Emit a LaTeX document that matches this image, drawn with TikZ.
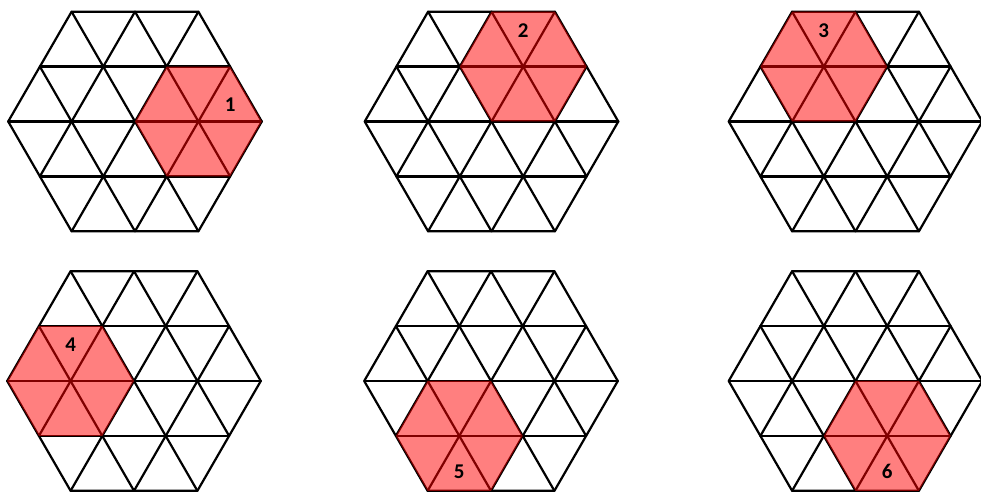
\documentclass[tikz,border=0pt]{standalone}
\usepackage{fontspec}
\setmainfont{Carlito}
\usetikzlibrary{calc}
\begin{document}
\begin{tikzpicture}[x=1pt,y=1pt,
  gridline/.style={line width=2.2pt, line join=round, line cap=round, black},
  redcell/.style={fill=red, fill opacity=0.5},
  lbl/.style={font=\fontsize{21}{24}\selectfont\bfseries, text=black, inner sep=0pt}]
\useasboundingbox[fill=white] (0,0) rectangle (981,492);
\def\a{63.4}
\pgfmathsetmacro\h{\a*sqrt(3)/2}
\foreach \cx/\cy/\ang/\lang/\n in {135/370.5/0/28/1, 491.5/370.5/60/90/2, 855.5/370.5/120/90/3, 134/111/180/90/4, 491/111/240/270/5, 855.5/111/300/270/6} {
  \begin{scope}[shift={(\cx,\cy)}]
    \foreach \r in {0,60,120} {
      \begin{scope}[rotate=\r]
        \draw[gridline] (-2*\a,0) -- (2*\a,0);
        \draw[gridline] (-1.5*\a,\h) -- (1.5*\a,\h);
        \draw[gridline] (-1.5*\a,-\h) -- (1.5*\a,-\h);
      \end{scope}
    }
    \draw[gridline] (0:2*\a) -- (60:2*\a) -- (120:2*\a) -- (180:2*\a) -- (240:2*\a) -- (300:2*\a) -- cycle;
    \fill[redcell, shift={(\ang:\a)}] (0:\a) -- (60:\a) -- (120:\a) -- (180:\a) -- (240:\a) -- (300:\a) -- cycle;
    \node[lbl] (label\n) at ($(\ang:\a)+(\lang:36)$) {\n};
  \end{scope}
}
\end{tikzpicture}
\end{document}
